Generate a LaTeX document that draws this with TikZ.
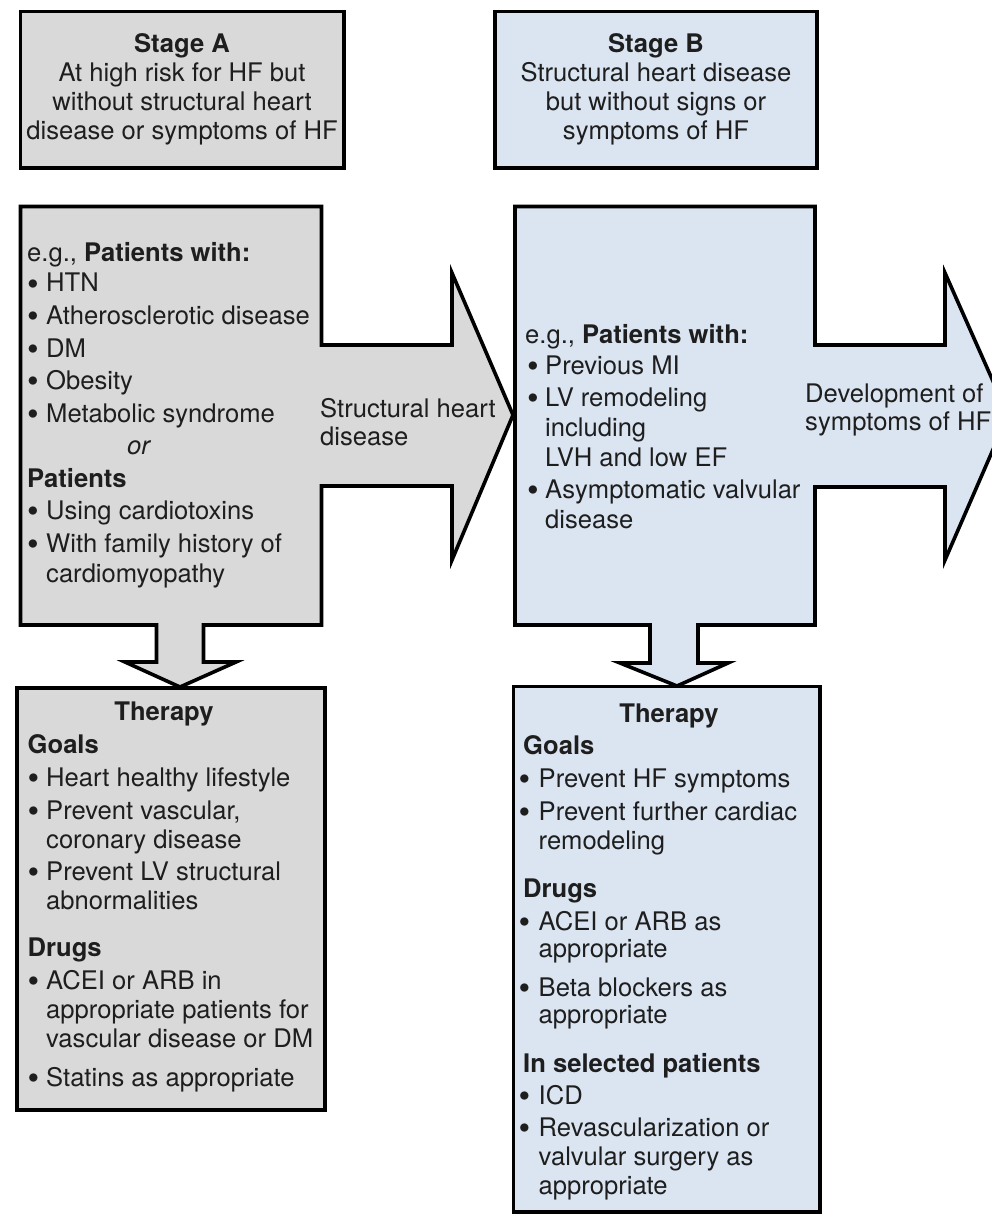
\documentclass[tikz,border=0pt]{standalone}
\usepackage{fontspec}
\setmainfont{TeX Gyre Heros}
\definecolor{greyfill}{RGB}{217,217,217}
\definecolor{bluefill}{RGB}{219,229,242}
\definecolor{ink}{RGB}{30,30,30}
\newlength\bw
\newlength\bo
\newcommand{\bdot}{\raisebox{-0.13em}{\scalebox{1.3}{\textbullet}}}
\newcommand{\bl}{\hspace*{\bo}\makebox[\bw][l]{\bdot}}
\newcommand{\ct}{\hspace*{\bo}\hspace*{\bw}}
\tikzset{
  box/.style={draw=black, line width=3.6pt, line join=miter},
  txt/.style={inner sep=0pt, text=ink, font=\fontsize{25.6}{30}\selectfont},
}
\begin{document}
\begin{tikzpicture}[x=1pt,y=-1pt]
\useasboundingbox (0,0) rectangle (992,1214);
\clip (0,0) rectangle (992,1214);
\fill[white] (0,0) rectangle (992,1214);

% middle A box with right and down arrows
\draw[box, fill=greyfill] (20.5,206.5) -- (321.5,206.5) -- (321.5,345) -- (452,345) -- (452,273)
  -- (513,415) -- (452,560) -- (452,486) -- (321.5,486) -- (321.5,625) -- (203.5,625)
  -- (203.5,662) -- (236,662) -- (180,687) -- (125,662) -- (156.5,662) -- (156.5,625)
  -- (20.5,625) -- cycle;
% middle B box with right and down arrows
\draw[box, fill=bluefill] (515,206.5) -- (815,206.5) -- (815,345) -- (945,345) -- (945,273)
  -- (1008,415) -- (945,560) -- (945,487) -- (815,487) -- (815,625) -- (698,625)
  -- (698,663) -- (728,663) -- (677,686) -- (620,663) -- (650,663) -- (650,625)
  -- (515,625) -- cycle;

% top stage boxes
\draw[box, fill=greyfill] (20.5,11.5) rectangle (344,168);
\draw[box, fill=bluefill] (495,11.5) rectangle (817,168);
% therapy boxes
\draw[box, fill=greyfill] (17,688) rectangle (325,1110);
\draw[box, fill=bluefill] (513.5,686.5) rectangle (820,1212);

% texts
\node[txt, anchor=base] (stA) at (182,53) {\parbox[t]{400pt}{\centering\baselineskip=29pt
  \textbf{Stage A}\\ At high risk for HF but\\ without structural heart\\ disease or symptoms of HF}};
\node[txt, anchor=base] (stB) at (656,53) {\parbox[t]{400pt}{\centering\baselineskip=29pt
  \textbf{Stage B}\\ Structural heart disease\\ but without signs or\\ symptoms of HF}};

\node[txt, anchor=base west] (midA) at (27,262) {\parbox[t]{400pt}{\raggedright
  \setlength\bw{19pt}\setlength\bo{0pt}\baselineskip=30pt
  e.g., \textbf{Patients with:}\\[0pt]
  \bl HTN\\[2.5pt]
  \bl Atherosclerotic disease\\[2.5pt]
  \bl DM\\[2.5pt]
  \bl Obesity\\[2.5pt]
  \bl Metabolic syndrome\\[2.5pt]
  \hspace*{100pt}\textit{or}\\[2.5pt]
  \textbf{Patients}\\[2.5pt]
  \bl Using cardiotoxins\\[2.5pt]
  \bl With family history of\\
  \ct cardiomyopathy}};

\node[txt, anchor=base west] (midB) at (525,343) {\parbox[t]{400pt}{\raggedright
  \setlength\bw{18pt}\setlength\bo{2pt}\baselineskip=30pt
  e.g., \textbf{Patients with:}\\[1pt]
  \bl Previous MI\\[2pt]
  \bl LV remodeling\\
  \ct including\\
  \ct LVH and low EF\\[2pt]
  \bl Asymptomatic valvular\\
  \ct disease}};

\node[txt, anchor=base west] (lblA) at (320,417) {\parbox[t]{300pt}{\raggedright\baselineskip=28pt
  Structural heart\\ disease}};
\node[txt, anchor=base west] (lblB) at (805,402) {\parbox[t]{300pt}{\raggedright\baselineskip=28pt
  Development of\\ symptoms of HF}};

\node[txt, anchor=base] (thAt) at (164,720) {\textbf{Therapy}};
\node[txt, anchor=base west] (thA) at (27.5,753) {\parbox[t]{400pt}{\raggedright
  \setlength\bw{18.5pt}\setlength\bo{0pt}\baselineskip=29pt
  \textbf{Goals}\\[4pt]
  \bl Heart healthy lifestyle\\[4pt]
  \bl Prevent vascular,\\
  \ct coronary disease\\[3pt]
  \bl Prevent LV structural\\
  \ct abnormalities\\[18pt]
  \textbf{Drugs}\\[4pt]
  \bl ACEI or ARB in\\
  \ct appropriate patients for\\
  \ct vascular disease or DM\\[10pt]
  \bl Statins as appropriate}};

\node[txt, anchor=base] (thBt) at (669,722) {\textbf{Therapy}};
\node[txt, anchor=base west] (thB) at (518.5,754) {\parbox[t]{400pt}{\raggedright
  \setlength\bw{20pt}\setlength\bo{0pt}\baselineskip=29pt
  \hspace*{4.5pt}\textbf{Goals}\\[4pt]
  \bl Prevent HF symptoms\\[4pt]
  \bl Prevent further cardiac\\
  \ct remodeling\\[19pt]
  \hspace*{4.5pt}\textbf{Drugs}\\[4pt]
  \bl ACEI or ARB as\\[-2pt]
  \ct appropriate\\[10pt]
  \bl Beta blockers as\\[-2pt]
  \ct appropriate\\[20pt]
  \hspace*{4.5pt}\textbf{In selected patients}\\[3pt]
  \bl ICD\\[3pt]
  \bl Revascularization or\\
  \ct valvular surgery as\\
  \ct appropriate}};
\end{tikzpicture}
\end{document}
